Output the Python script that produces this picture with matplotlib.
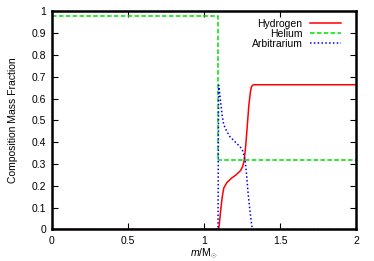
import matplotlib
matplotlib.use("Agg")
import matplotlib.pyplot as plt

plt.rcParams['font.family'] = ['Liberation Sans', 'DejaVu Sans']
plt.rcParams['mathtext.fontset'] = 'custom'
plt.rcParams['mathtext.it'] = 'Liberation Sans:italic'
plt.rcParams['mathtext.rm'] = 'Liberation Sans'

# data
hydrogen_m = [0.0, 1.095, 1.10, 1.11, 1.12, 1.13, 1.15, 1.18, 1.21, 1.24, 1.255,
              1.265, 1.275, 1.285, 1.295, 1.305, 1.312, 1.32, 1.33, 2.0]
hydrogen_x = [0.0, 0.0, 0.02, 0.09, 0.15, 0.19, 0.215, 0.235, 0.25, 0.27, 0.29,
              0.32, 0.39, 0.48, 0.57, 0.63, 0.655, 0.662, 0.664, 0.664]

helium_m = [0.0, 1.09, 1.09, 2.0]
helium_x = [0.98, 0.98, 0.318, 0.318]

arbitrarium_m = [0.0, 1.092, 1.096, 1.10, 1.11, 1.12, 1.13, 1.15, 1.17, 1.20,
                 1.237, 1.255, 1.27, 1.28, 1.29, 1.30, 1.31, 1.318, 2.0]
arbitrarium_x = [0.0, 0.0, 0.662, 0.645, 0.58, 0.52, 0.48, 0.45, 0.426, 0.405,
                 0.38, 0.36, 0.319, 0.25, 0.166, 0.10, 0.04, 0.0, 0.0]

xticks = [0, 0.5, 1, 1.5, 2]
yticks = [0, 0.1, 0.2, 0.3, 0.4, 0.5, 0.6, 0.7, 0.8, 0.9, 1]

fig = plt.figure(figsize=(3.74, 2.61), dpi=100)
ax = fig.add_axes([0.139, 0.1207, 0.813, 0.8353])

ax.plot(hydrogen_m, hydrogen_x, color='#ff0000', lw=1.1, label='Hydrogen')
ax.plot(helium_m, helium_x, color='#00e000', lw=1.1, ls=(0, (3, 1.5)), label='Helium')
ax.plot(arbitrarium_m, arbitrarium_x, color='#0000ff', lw=1.1, ls=(0, (1, 1.5)),
        label='Arbitrarium')

ax.set_xlim(0, 2)
ax.set_ylim(0, 1)
ax.set_xticks(xticks)
ax.set_xticklabels([f'{t:g}' for t in xticks])
ax.set_yticks(yticks)
ax.set_yticklabels([f'{t:g}' for t in yticks])
ax.tick_params(direction='in', length=4, width=0.8, labelsize=7.5,
               top=True, right=True)
ax.tick_params(axis='x', pad=5)
ax.tick_params(axis='y', pad=4)
for s in ax.spines.values():
    s.set_linewidth(1.8)

ax.set_xlabel(r'$m$/M$_{\odot}$', fontsize=7.5, labelpad=0.5)
ax.set_ylabel('Composition Mass Fraction', fontsize=7.5, labelpad=10)

leg = ax.legend(loc='upper right', bbox_to_anchor=(0.975, 1.0), frameon=False,
                fontsize=7.5, markerfirst=False, handlelength=3.0,
                handletextpad=0.7, labelspacing=0.0, borderpad=0.2)
leg._legend_box._children[-1]._children[0].align = 'right'

fig.savefig('out.png', dpi=100)
